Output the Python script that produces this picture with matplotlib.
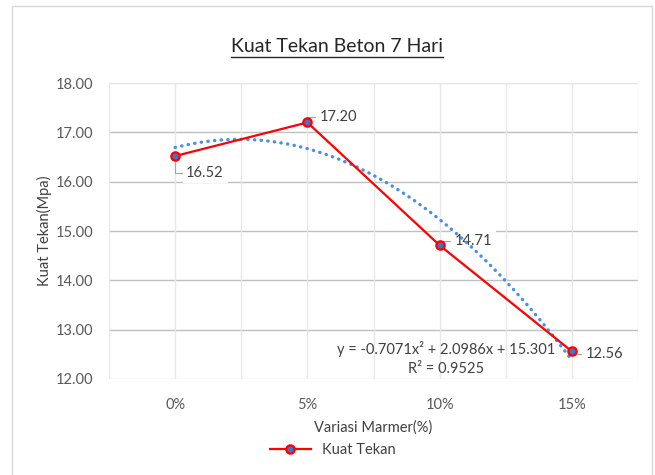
import matplotlib
matplotlib.use("Agg")
import matplotlib.pyplot as plt
from matplotlib.lines import Line2D
from matplotlib.patches import Rectangle
import numpy as np

plt.rcParams['font.family'] = ['Lato', 'DejaVu Sans']

# data
categories = ["0%", "5%", "10%", "15%"]
kuat_tekan = [16.52, 17.20, 14.71, 12.56]
# polynomial trendline coefficients (as printed on the chart), x = 1..4
trend_coef = [-0.7071, 2.0986, 15.301]
eq_text = "y = -0.7071x² + 2.0986x + 15.301\nR² = 0.9525"

text_col = "#404040"
tick_col = "#595959"

fig = plt.figure(figsize=(6.55, 4.75), dpi=100)
ax = fig.add_axes([109 / 655, 1 - 379 / 475, 529 / 655, 296 / 475])

xpos = np.arange(len(categories))

# grid
ax.set_xlim(-0.5, 3.5)
ax.set_ylim(12, 18)
ax.set_yticks(np.arange(12, 18.01, 1))
ax.set_xticks(xpos)
for y in np.arange(13, 18, 1):
    ax.axhline(y, color="#c0c0c0", lw=1, zorder=0)
for y in (12, 18):
    ax.axhline(y, color="#e3e3e3", lw=1, zorder=0)
for x in np.arange(-0.5, 3.6, 0.5):
    ax.axvline(x, color="#e8e8e8", lw=1, zorder=0)
for s in ax.spines.values():
    s.set_visible(False)
ax.tick_params(axis="both", which="both", length=0, colors=tick_col, labelsize=10.5)
ax.tick_params(axis="x", pad=14)
ax.tick_params(axis="y", pad=11)
ax.set_xticklabels(categories)
ax.set_yticklabels([f"{v:.2f}" for v in np.arange(12, 18.01, 1)])

# trendline
xt = np.linspace(0, 3, 200)
yt = np.polyval(trend_coef, xt + 1)
ax.plot(xt, yt, color="#4a90e2", lw=2.4, linestyle=(0, (0.1, 1.9)),
        dash_capstyle="round", zorder=2)

# main series
ax.plot(xpos, kuat_tekan, color="#ff0000", lw=1.6, marker="o", markersize=6,
        markerfacecolor="#4472c4", markeredgecolor="#ff0000", markeredgewidth=1.6,
        label="Kuat Tekan", zorder=3)

# data labels
offsets = [(8, -12), (9, 4), (11, 3), (10, -2)]
for i, (v, off) in enumerate(zip(kuat_tekan, offsets)):
    ax.annotate(f"{v:.2f}", xy=(xpos[i], v), xytext=off, textcoords="offset points",
                ha="left", va="center", fontsize=10.5, color=text_col,
                bbox=dict(boxstyle="square,pad=0.25", fc="white", ec="none"),
                arrowprops=dict(arrowstyle="-", color="#a6a6a6", lw=0.8,
                                shrinkA=0, shrinkB=4,
                                connectionstyle="angle,angleA=0,angleB=90,rad=0"),
                zorder=1.5)

ax.text(2.05, 12.42, eq_text, ha="center", va="center", fontsize=10.5,
        color=text_col, linespacing=1.45, zorder=4)

ax.set_xlabel("Variasi Marmer(%)", fontsize=10.5, color=text_col, labelpad=6)
ax.set_ylabel("Kuat Tekan(Mpa)", fontsize=10.5, color=text_col, labelpad=3)

# title with underline
title = fig.text(337 / 655, 1 - 47 / 475, "Kuat Tekan Beton 7 Hari", ha="center",
                 va="center", fontsize=14, color="#262626")
fig.canvas.draw()
bb = title.get_window_extent().transformed(fig.transFigure.inverted())
fig.add_artist(Line2D([bb.x0, bb.x1], [bb.y0 - 0.003, bb.y0 - 0.003],
                      transform=fig.transFigure, color="#262626", lw=1))

# chart border
fig.add_artist(Rectangle((12 / 655, -0.02), 640 / 655, 1 - 6 / 475 + 0.02,
                         transform=fig.transFigure, fill=False, ec="#d9d9d9", lw=1))

fig.legend(loc="center", bbox_to_anchor=(333 / 655, 1 - 450 / 475), frameon=False,
           fontsize=10.5, labelcolor=text_col, handlelength=2.8)

fig.savefig("out.png", dpi=100)
